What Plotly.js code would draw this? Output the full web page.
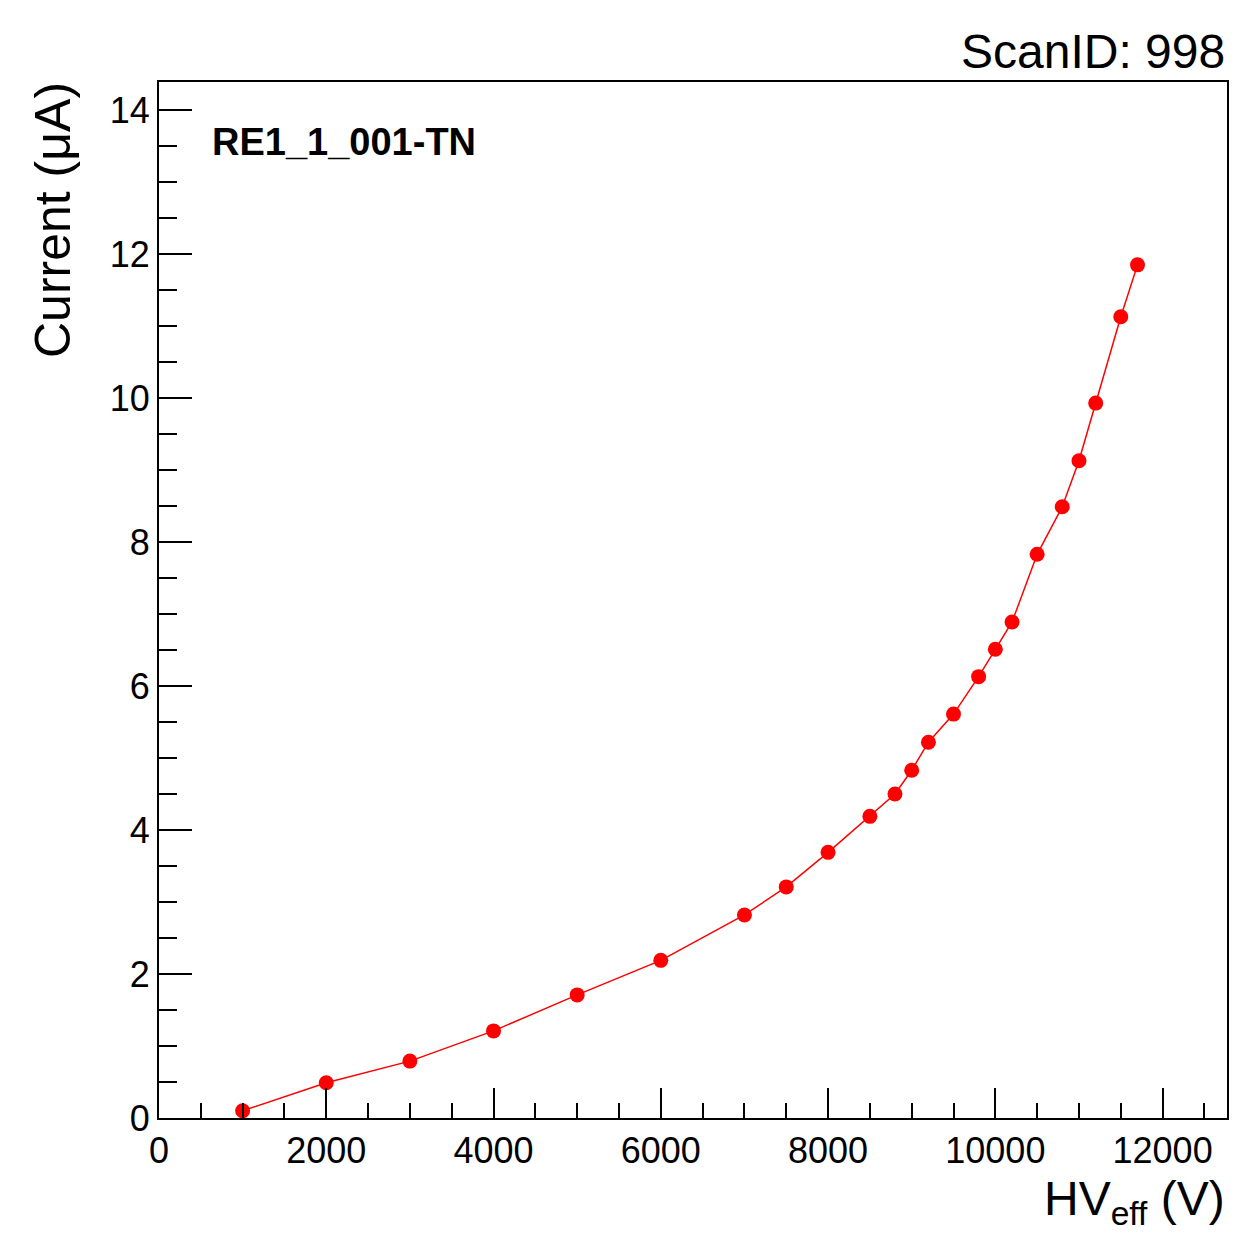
<!DOCTYPE html>
<html>
<head>
<meta charset="utf-8">
<script src="https://cdn.plot.ly/plotly-3.0.1.min.js"></script>
<style>html,body{margin:0;padding:0;background:#fff;}#plot{width:1235px;height:1233px;}</style>
</head>
<body>
<div id="plot"></div>
<script>
const hvEff = [1000,2000,3000,4000,5000,6000,7000,7500,8000,8500,8800,9000,9200,9500,9800,10000,10200,10500,10800,11000,11200,11500,11700];
const current = [0.10,0.49,0.79,1.21,1.71,2.19,2.82,3.21,3.69,4.19,4.50,4.83,5.22,5.61,6.13,6.51,6.89,7.83,8.49,9.13,9.93,11.13,11.85];
const chamberLabel = 'RE1_1_001-TN';
const titleText = 'ScanID: 998';
const xTitle = 'HV<sub>eff</sub> (V)';
const yTitle = 'Current (μA)';

const font = 'Liberation Sans, Arial, Helvetica, sans-serif';

const trace = {
  x: hvEff, y: current, type: 'scatter', mode: 'lines+markers',
  line: {color: '#ff0000', width: 1.5},
  marker: {color: '#ff0000', size: 15},
  showlegend: false, hoverinfo: 'x+y'
};

const layout = {
  width: 1235, height: 1233,
  margin: {l: 159, r: 8, t: 82, b: 115},
  paper_bgcolor: '#fff', plot_bgcolor: '#fff',
  font: {family: font, color: '#000', size: 36},
  xaxis: {
    range: [0, 12770], showgrid: false, zeroline: false,
    showline: true, linecolor: '#000', linewidth: 2, mirror: true,
    ticks: 'inside', ticklen: 30, tickwidth: 2, tickcolor: '#000',
    dtick: 2000, tick0: 0, tickformat: 'd', exponentformat: 'none',
    minor: {dtick: 500, ticks: 'inside', ticklen: 15, tickwidth: 2, tickcolor: '#000', showgrid: false},
    tickfont: {family: font, size: 36, color: '#000'}
  },
  yaxis: {
    range: [0, 14.39], showgrid: false, zeroline: false,
    showline: true, linecolor: '#000', linewidth: 2, mirror: true,
    ticks: 'inside', ticklen: 33, tickwidth: 2, tickcolor: '#000',
    dtick: 2, tick0: 0,
    minor: {dtick: 0.5, ticks: 'inside', ticklen: 18, tickwidth: 2, tickcolor: '#000', showgrid: false},
    tickfont: {family: font, size: 36, color: '#000'}
  },
  annotations: [
    {text: titleText, xref: 'paper', yref: 'paper', x: 1, y: 1, xanchor: 'right', yanchor: 'bottom', yshift: 2, showarrow: false, font: {family: font, size: 48, color: '#000'}},
    {text: '<b>' + chamberLabel + '</b>', xref: 'paper', yref: 'paper', x: 0.0478, y: 0.942, xanchor: 'left', yanchor: 'middle', showarrow: false, font: {family: font, size: 38, color: '#000'}},
    {text: xTitle, xref: 'paper', yref: 'paper', x: 1, y: 0, xanchor: 'right', yanchor: 'top', yshift: -52, showarrow: false, font: {family: font, size: 48, color: '#000'}},
    {text: yTitle, xref: 'paper', yref: 'paper', x: 0, y: 1, xanchor: 'center', yanchor: 'top', xshift: -106, yshift: 2, textangle: -90, showarrow: false, font: {family: font, size: 50, color: '#000'}}
  ]
};

Plotly.newPlot('plot', [trace], layout, {displayModeBar: false, staticPlot: true});
</script>
</body>
</html>
